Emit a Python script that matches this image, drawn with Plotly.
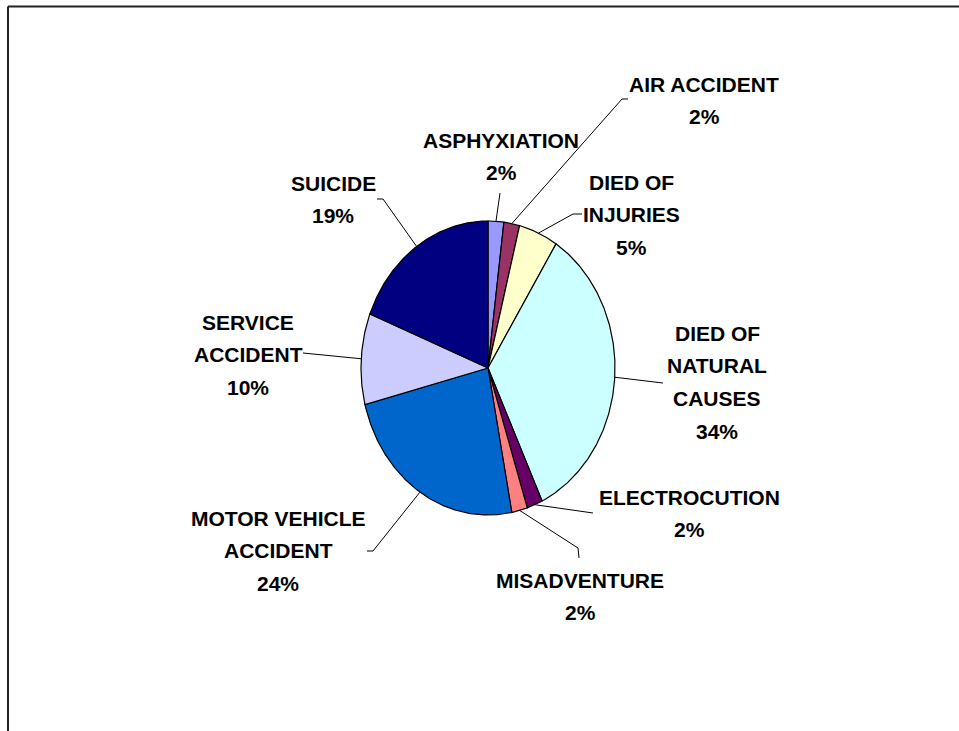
import numpy as np
import plotly.graph_objects as go

# Causes of death, clockwise from 12 o'clock
causes = ["ASPHYXIATION", "AIR ACCIDENT", "DIED OF INJURIES", "DIED OF NATURAL CAUSES",
          "ELECTROCUTION", "MISADVENTURE", "MOTOR VEHICLE ACCIDENT", "SERVICE ACCIDENT", "SUICIDE"]
percents = [2, 2, 5, 34, 2, 2, 24, 10, 19]
colors = ["#9999FF", "#993366", "#FFFFCC", "#CCFFFF", "#660066",
          "#FF8080", "#0066CC", "#CCCCFF", "#000080"]

# Label text, broken into lines
label_lines = [
    ["ASPHYXIATION"],
    ["AIR ACCIDENT"],
    ["DIED OF", "INJURIES"],
    ["DIED OF", "NATURAL", "CAUSES"],
    ["ELECTROCUTION"],
    ["MISADVENTURE"],
    ["MOTOR VEHICLE", "ACCIDENT"],
    ["SERVICE", "ACCIDENT"],
    ["SUICIDE"],
]

# Layout (pixel space): pie centre / radii, label anchors and leader elbows
W, H = 959, 731
CX, CY, RX, RY = 488, 368, 127, 147
LINE_GAP = 32.8
label_pos = [(501, 140), (704, 84), (631, 182), (717, 333), (689, 497),
             (580, 580), (278, 518), (248, 322), (333, 183)]
leader_tail = [
    [(500, 193)],
    [(622, 99), (628, 99)],
    [(573, 214), (582, 214)],
    [(663, 383)],
    [(593, 513)],
    [(578, 548), (579, 558)],
    [(373, 551), (367, 551)],
    [(303, 353)],
    [(383, 199), (377, 199)],
]

FONT = dict(family="Liberation Sans, Arial, sans-serif", size=21, color="black", weight="bold")


def edge_point(frac):
    th = 2 * np.pi * frac
    return CX + RX * np.sin(th), CY - RY * np.cos(th)


fig = go.Figure()

total = float(sum(percents))
start = 0.0
mids = []
for name, val, col in zip(causes, percents, colors):
    end = start + val / total
    t = np.linspace(start, end, max(8, int(val * 6)))
    xs = [CX] + [edge_point(f)[0] for f in t] + [CX]
    ys = [CY] + [edge_point(f)[1] for f in t] + [CY]
    fig.add_trace(go.Scatter(x=xs, y=ys, mode="lines", fill="toself", fillcolor=col,
                             line=dict(color="black", width=1.2), name=name,
                             hoverinfo="skip", showlegend=False))
    mids.append((start + end) / 2)
    start = end

# Leader lines from slice edge to label
for mid, tail in zip(mids, leader_tail):
    x0, y0 = edge_point(mid)
    xs = [x0] + [p[0] for p in tail]
    ys = [y0] + [p[1] for p in tail]
    fig.add_trace(go.Scatter(x=xs, y=ys, mode="lines", line=dict(color="black", width=1),
                             hoverinfo="skip", showlegend=False))

# Category labels with percentage on the last line
annotations = []
for lines, val, (lx, ly) in zip(label_lines, percents, label_pos):
    for i, txt in enumerate(lines + [f"{val}%"]):
        annotations.append(dict(x=lx, y=ly + i * LINE_GAP, text=txt, showarrow=False,
                                xref="x", yref="y", xanchor="center", yanchor="middle",
                                font=FONT))

# Chart frame (top and left edges)
shapes = [
    dict(type="line", x0=8, y0=6.5, x1=W, y1=6.5, xref="x", yref="y",
         line=dict(color="#222222", width=2)),
    dict(type="line", x0=8, y0=6.5, x1=8, y1=H, xref="x", yref="y",
         line=dict(color="#222222", width=2)),
]

fig.update_layout(
    width=W, height=H,
    margin=dict(l=0, r=0, t=0, b=0),
    paper_bgcolor="white", plot_bgcolor="white",
    xaxis=dict(range=[0, W], visible=False, fixedrange=True),
    yaxis=dict(range=[H, 0], visible=False, fixedrange=True),
    annotations=annotations, shapes=shapes,
)

fig.write_html("out.html")
